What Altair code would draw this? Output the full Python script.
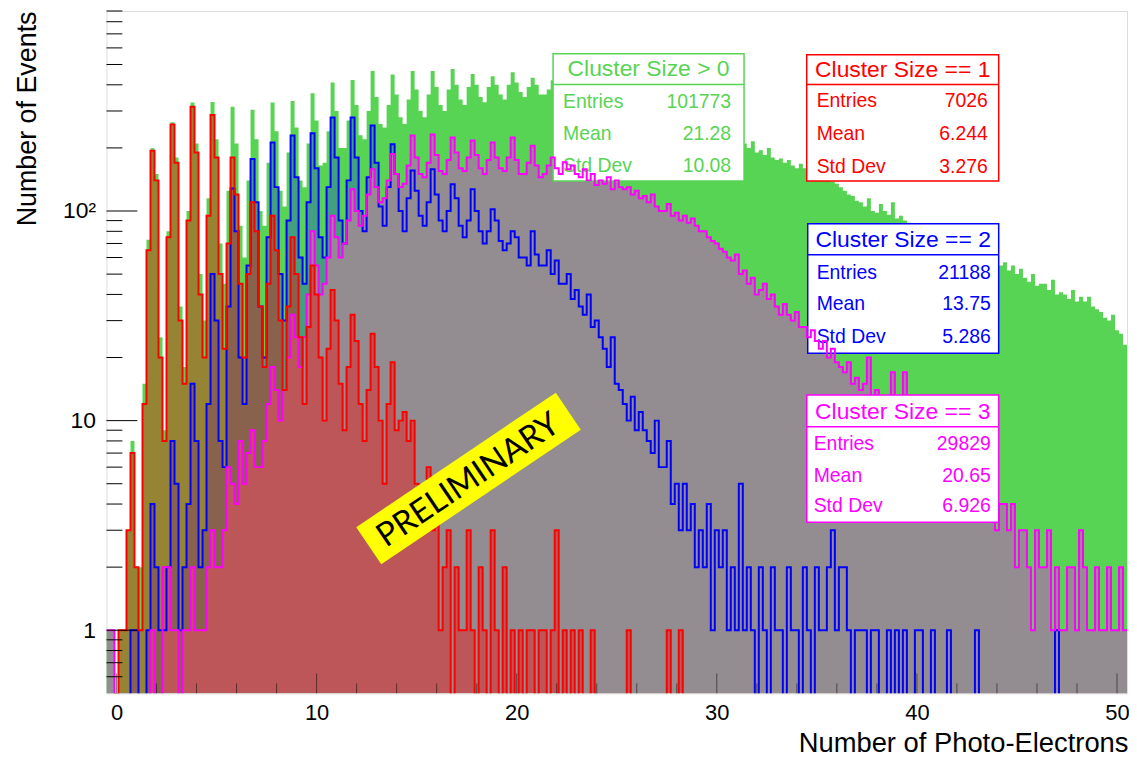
import altair as alt
import pandas as pd

# ---------------- data (counts per 0.2 photo-electron bin, bins start at -0.5) ----------------
X_MIN, X_MAX, BIN_W = -0.5, 50.5, 0.2
Y_MIN, Y_MAX = 0.5, 900

# Cluster Size > 0
green_pre = [1, 1, 0, 1]
green_groups = [
    [1, 3, 8, 2, 2], [15, 73, 199, 150, 25], [9, 80, 265, 180, 35], [18, 100, 329, 210, 50],
    [30, 115, 331, 220, 70], [45, 125, 314, 210, 85], [60, 140, 304, 220, 100], [85, 170, 329, 240, 125],
    [105, 190, 335, 250, 140], [130, 210, 365, 270, 165], [170, 240, 410, 300, 200], [200, 270, 422, 320, 230],
    [220, 300, 466, 350, 260], [250, 320, 448, 360, 280], [260, 340, 466, 380, 300], [280, 360, 466, 390, 320],
    [300, 380, 476, 400, 340], [320, 390, 451, 400, 350], [330, 390, 440, 400, 360], [340, 400, 459, 410, 370],
    [350, 390, 432, 400, 360], [360, 380, 420, 390, 370], [380, 400, 390, 370, 385], [370, 360, 380, 350, 355],
    [345, 350, 330, 340, 320], [330, 310, 320, 300, 305], [300, 290, 295, 280, 285], [270, 280, 265, 255, 260],
    [250, 245, 255, 235, 240], [230, 225, 235, 220, 215], [215, 205, 210, 200, 205], [210, 200, 215, 190, 195],
    [185, 200, 180, 175, 178], [170, 175, 165, 160, 168], [160, 155, 150, 158, 148], [145, 140, 138, 135, 130],
    [125, 120, 118, 112, 110], [105, 115, 100, 98, 108], [100, 96, 110, 92, 95], [90, 88, 85, 87, 82],
    [80, 78, 82, 75, 74], [72, 70, 68, 71, 66], [65, 63, 66, 60, 62], [60, 58, 57, 59, 55],
    [57, 52, 55, 50, 53], [48, 46, 50, 44, 45], [45, 42, 47, 40, 41], [40, 38, 42, 37, 39],
    [37, 39, 35, 34, 33], [31, 30, 32, 27, 26],
]
green_end = [23]

# Cluster Size == 1
red_pre = [0, 0, 0, 1]
red_groups = [
    [1, 3, 7, 2, 1], [12, 65, 194, 140, 20], [8, 75, 259, 170, 30], [15, 90, 314, 190, 40],
    [20, 95, 287, 180, 50], [22, 70, 180, 120, 45], [20, 50, 110, 80, 35], [18, 45, 95, 65, 30],
    [14, 35, 75, 50, 25], [12, 28, 55, 40, 20], [10, 22, 42, 30, 15], [9, 18, 32, 24, 12],
    [8, 14, 26, 18, 10], [5, 12, 19, 9, 10], [11, 8, 10, 5, 4], [3, 6, 3, 4, 1],
    [2, 3, 0, 2, 1], [1, 3, 1, 0, 2], [1, 0, 3, 1, 0], [2, 0, 1, 0, 1],
    [0, 1, 1, 0, 1], [1, 0, 1, 3, 0], [1, 0, 1, 0, 1], [0, 0, 1, 0, 0],
    [0, 0, 0, 0, 0], [0, 1, 0, 0, 0], [0, 0, 0, 0, 0], [0, 1, 0, 0, 1],
    [0, 0, 0, 0, 0], [0, 0, 0, 0, 0], [0, 0, 0, 0, 0], [0, 0, 0, 0, 0],
    [0, 0, 0, 0, 0], [0, 0, 0, 0, 0], [0, 0, 0, 0, 0], [0, 0, 0, 0, 0],
    [0, 0, 0, 0, 0], [0, 0, 0, 0, 0], [0, 0, 0, 0, 0], [0, 0, 0, 0, 0],
    [0, 0, 0, 0, 0], [0, 0, 0, 0, 0], [0, 0, 0, 0, 0], [0, 0, 0, 0, 0],
    [0, 0, 0, 0, 0], [0, 0, 0, 0, 0], [0, 0, 0, 0, 0], [0, 0, 0, 0, 0],
    [0, 0, 0, 0, 0], [0, 0, 0, 0, 0],
]
red_end = [0]

# Cluster Size == 2
blue_pre = [0, 0, 0, 0]
blue_groups = [
    [0, 0, 1, 1, 0], [0, 1, 4, 2, 1], [1, 2, 8, 5, 1], [2, 4, 15, 8, 2],
    [3, 12, 50, 30, 8], [6, 35, 128, 80, 20], [12, 55, 177, 110, 35], [20, 75, 212, 130, 50],
    [30, 90, 229, 145, 60], [45, 110, 235, 160, 75], [60, 130, 279, 180, 90], [70, 140, 279, 180, 100],
    [80, 145, 256, 170, 105], [85, 130, 208, 150, 100], [80, 115, 156, 125, 95], [85, 110, 158, 120, 90],
    [80, 100, 134, 115, 85], [75, 90, 127, 100, 80], [70, 80, 102, 90, 72], [65, 70, 80, 75, 60],
    [60, 55, 80, 62, 55], [55, 65, 50, 58, 45], [45, 50, 38, 42, 35], [32, 40, 28, 30, 25],
    [22, 18, 25, 15, 14], [12, 10, 13, 9, 11], [9, 8, 7, 10, 6], [6, 8, 4, 5, 3],
    [5, 3, 4, 2, 3], [2, 4, 1, 3, 2], [3, 1, 2, 1, 5], [1, 2, 1, 0, 2],
    [1, 0, 2, 1, 1], [0, 2, 1, 1, 0], [2, 1, 0, 2, 1], [1, 2, 3, 1, 2],
    [2, 1, 0, 1, 1], [1, 0, 1, 1, 0], [0, 1, 0, 1, 0], [1, 0, 0, 1, 1],
    [0, 0, 1, 0, 0], [0, 1, 0, 0, 0], [0, 0, 0, 1, 0], [0, 0, 0, 0, 0],
    [0, 0, 0, 0, 0], [0, 0, 0, 0, 0], [0, 0, 0, 1, 0], [0, 0, 0, 0, 0],
    [0, 0, 0, 0, 0], [0, 0, 0, 0, 0],
]
blue_end = [0]

# Cluster Size == 3
magenta_pre = [1, 1, 0, 0]
magenta_groups = [
    [0, 0, 0, 0, 0], [0, 0, 1, 0, 0], [2, 2, 1, 1, 0], [1, 1, 2, 1, 1],
    [1, 2, 3, 2, 2], [3, 6, 5, 4, 8], [5, 7, 9, 6, 6], [8, 12, 18, 14, 10],
    [14, 20, 32, 25, 18], [25, 40, 80, 55, 40], [45, 60, 95, 75, 60], [70, 90, 127, 100, 85],
    [95, 120, 158, 130, 110], [115, 140, 187, 150, 130], [135, 165, 229, 180, 150], [145, 170, 232, 185, 155],
    [150, 175, 224, 190, 160], [155, 180, 217, 185, 160], [150, 175, 212, 180, 160], [155, 180, 224, 175, 150],
    [150, 170, 205, 165, 145], [150, 165, 180, 160, 150], [171, 158, 165, 150, 145], [158, 140, 150, 133, 140],
    [135, 145, 127, 140, 130], [127, 130, 120, 125, 115], [118, 110, 120, 105, 100], [100, 108, 95, 98, 90],
    [95, 88, 92, 85, 80], [80, 75, 72, 70, 66], [64, 60, 58, 62, 50], [52, 45, 48, 40, 42],
    [45, 38, 40, 35, 32], [36, 32, 30, 33, 28], [28, 25, 27, 24, 22], [24, 20, 22, 19, 18],
    [17, 19, 15, 16, 14], [15, 20, 13, 14, 12], [13, 12, 17, 11, 13], [17, 11, 10, 12, 9],
    [10, 9, 8, 10, 7], [8, 7, 6, 8, 6], [6, 5, 7, 5, 4], [5, 4, 5, 3, 4],
    [4, 3, 4, 2, 3], [3, 2, 1, 3, 2], [2, 3, 1, 2, 1], [1, 2, 2, 1, 3],
    [2, 1, 1, 2, 1], [1, 2, 1, 1, 2],
]
magenta_end = [1]

box_titles = ["Cluster Size > 0", "Cluster Size == 1", "Cluster Size == 2", "Cluster Size == 3"]
box_entries = ["101773", "7026", "21188", "29829"]
box_means = ["21.28", "6.244", "13.75", "20.65"]
box_stds = ["10.08", "3.276", "5.286", "6.926"]
row_labels = ["Entries", "Mean", "Std Dev"]

x_major = [0, 10, 20, 30, 40, 50]
x_minor = [v for v in range(0, 51, 2) if v % 10 != 0]
y_major = [1, 10, 100]
y_minor = [0.6, 0.7, 0.8, 0.9, 2, 3, 4, 5, 6, 7, 8, 9,
           20, 30, 40, 50, 60, 70, 80, 90, 200, 300, 400, 500, 600, 700, 800, 900]

# ---------------- layout / style ----------------
PLOT_W, PLOT_H = 1026, 686
FONT = "Liberation Sans"
COL = {"g": "#58d454", "r": "#ff0000", "b": "#0000ff", "m": "#ff00ff"}
FILL = {"b": ("#0000ff", 0.25), "m": ("#938c90", 1.0), "r": ("#ff0000", 0.38)}
FLOOR = 0.3  # empty bins drawn below the axis floor (clipped)


def counts(pre, groups, end):
    out = list(pre)
    for g in groups:
        out.extend(g)
    out.extend(end)
    return out


series = {
    "g": counts(green_pre, green_groups, green_end),
    "r": counts(red_pre, red_groups, red_end),
    "b": counts(blue_pre, blue_groups, blue_end),
    "m": counts(magenta_pre, magenta_groups, magenta_end),
}
N_BINS = 255
rows = []
for key, vals in series.items():
    assert len(vals) == N_BINS, (key, len(vals))
    for i, v in enumerate(vals):
        rows.append({"s": key, "x": round(X_MIN + BIN_W * i, 3), "n": v if v > 0 else FLOOR, "base": Y_MIN})
    rows.append({"s": key, "x": X_MAX, "n": vals[-1] if vals[-1] > 0 else FLOOR, "base": Y_MIN})
hist = pd.DataFrame(rows)

x_scale = alt.Scale(domain=[X_MIN, X_MAX], nice=False, zero=False)
y_scale = alt.Scale(type="log", domain=[Y_MIN, Y_MAX], nice=False)

x_axis = alt.Axis(values=x_major, format="d", ticks=False, domain=False, grid=False,
                  labelFont=FONT, labelFontSize=22, labelColor="black", labelPadding=9,
                  title="Number of Photo-Electrons", titleFont=FONT, titleFontSize=27.5,
                  titleFontWeight="normal", titleColor="black", titleX=PLOT_W + 1, titleY=50,
                  titleAlign="right", titleBaseline="middle")
y_axis = alt.Axis(values=y_major, ticks=False, domain=False, grid=False,
                  labelExpr="datum.value == 100 ? '10²' : datum.value == 10 ? '10' : '1'",
                  labelFont=FONT, labelFontSize=23, labelColor="black", labelPadding=11,
                  title="Number of Events", titleFont=FONT, titleFontSize=27,
                  titleFontWeight="normal", titleColor="black", titleX=-79, titleY=0,
                  titleAngle=270, titleAlign="right", titleBaseline="middle")

X = alt.X("x:Q", scale=x_scale, axis=x_axis)
Y = alt.Y("n:Q", scale=y_scale, axis=y_axis, stack=None)

one = pd.DataFrame({"k": [0]})


def area(key, color, opacity):
    return alt.Chart(hist).transform_filter(alt.datum.s == key).mark_area(
        interpolate="step-after", clip=True, color=color, opacity=opacity
    ).encode(x=X, y=Y, y2=alt.Y2("base:Q"))


def line(key, width):
    return alt.Chart(hist).transform_filter(alt.datum.s == key).mark_line(
        interpolate="step-after", clip=True, color=COL[key], strokeWidth=width
    ).encode(x=X, y=Y)


# stat box geometry in plot pixels: x0, x1, y0, y1, separator y, title y, row ys, label x, value x
box_geo = [
    (449, 641, 43, 171, 74, 58, [92, 124, 156], 459, 628),
    (704, 897, 44, 171, 74, 59, [91, 124, 157], 714, 886),
    (705, 897, 214, 344, 245, 230, [263, 295, 328], 714, 889),
    (704, 897, 386, 514, 418, 403, [435, 468, 498], 711, 889),
]
box_cols = [COL["g"], COL["r"], COL["b"], COL["m"]]


def stat_box(i):
    x0, x1, y0, y1, ys, yt, yr, xl, xv = box_geo[i]
    c = box_cols[i]
    parts = [
        alt.Chart(one).mark_rect(fill="white", stroke=c, strokeWidth=1.5).encode(
            x=alt.value(x0), x2=alt.value(x1), y=alt.value(y0), y2=alt.value(y1)),
        alt.Chart(one).mark_rule(color=c, strokeWidth=1.5).encode(
            x=alt.value(x0), x2=alt.value(x1), y=alt.value(ys)),
        alt.Chart(one).mark_text(text=box_titles[i], font=FONT, fontSize=23, color=c,
                                 align="center", baseline="middle").encode(
            x=alt.value((x0 + x1) / 2), y=alt.value(yt)),
    ]
    vals = [box_entries[i], box_means[i], box_stds[i]]
    for j in range(3):
        parts.append(alt.Chart(one).mark_text(text=row_labels[j], font=FONT, fontSize=19.5, color=c,
                                              align="left", baseline="middle").encode(
            x=alt.value(xl), y=alt.value(yr[j])))
        parts.append(alt.Chart(one).mark_text(text=vals[j], font=FONT, fontSize=19.5, color=c,
                                              align="right", baseline="middle").encode(
            x=alt.value(xv), y=alt.value(yr[j])))
    return parts


def yticks(vals, length):
    return alt.Chart(pd.DataFrame({"n": vals})).mark_rule(color="black", strokeWidth=1).encode(
        y=Y, x=alt.value(0), x2=alt.value(length))


def xticks(vals, length):
    return alt.Chart(pd.DataFrame({"x": vals})).mark_rule(color="black", strokeWidth=1, opacity=0.5).encode(
        x=X, y=alt.value(PLOT_H), y2=alt.value(PLOT_H - length))


prelim_bg = alt.Chart(one).mark_point(
    shape="M-1,-0.186L1,-0.186L1,0.186L-1,0.186Z", size=242 ** 2, angle=326,
    filled=True, fill="#ffff00", opacity=1, strokeWidth=0
).encode(x=alt.value(364), y=alt.value(470))
prelim_txt = alt.Chart(one).mark_text(
    text="PRELIMINARY", font="Lato", fontSize=33, angle=326, color="black",
    align="center", baseline="middle"
).encode(x=alt.value(364), y=alt.value(472))

layers = [area("g", COL["g"], 1.0)]
layers += [area("b", *FILL["b"]), area("m", *FILL["m"]), area("r", *FILL["r"])]
layers += stat_box(0) + stat_box(2)
layers += [line("b", 2), line("m", 2), line("r", 2)]
layers += stat_box(1) + stat_box(3)
layers += [yticks(y_major, 31), yticks(y_minor, 16), xticks(x_major, 20), xticks(x_minor, 10)]
layers += [prelim_bg, prelim_txt]

chart = alt.layer(*layers).properties(
    width=PLOT_W, height=PLOT_H,
    autosize=alt.AutoSizeParams(type="none"),
    padding={"left": 99, "top": 1, "right": 2, "bottom": 62},
).configure_view(stroke="black", strokeWidth=1).configure(background="white")

chart.save("out.html", embed_options={"renderer": "svg", "actions": False})
